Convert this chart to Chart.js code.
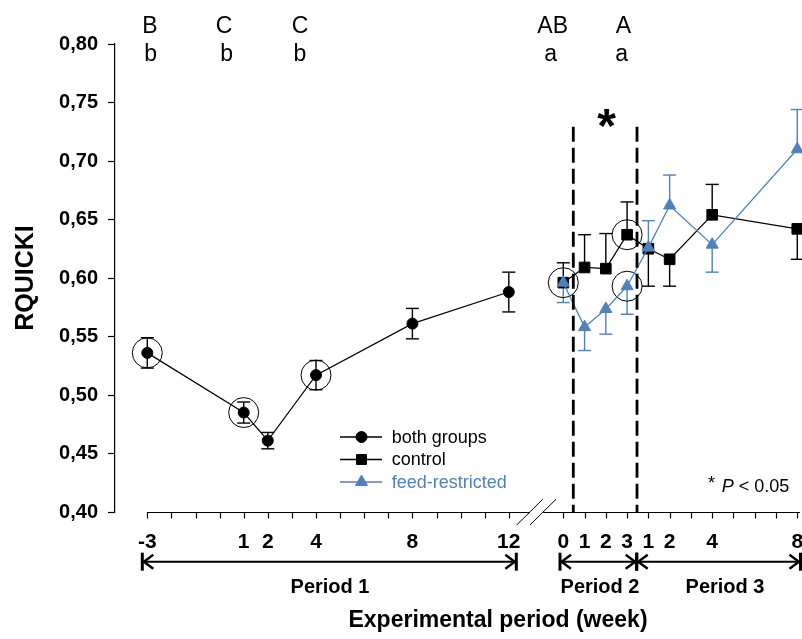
<!DOCTYPE html>
<html><head><meta charset="utf-8">
<script src="https://cdn.jsdelivr.net/npm/chart.js@4.4.0/dist/chart.umd.min.js"></script>
<style>html,body{margin:0;padding:0;background:#fff;}#wrap{width:802px;height:639px;position:relative;}</style>
</head><body><div id="wrap"><canvas id="c" width="802" height="639"></canvas></div>
<script>
// ---------------- data ----------------
const period1Weeks = [-3, 1, 2, 4, 8, 12];
const period1TickLabels = ['-3', '1', '2', '4', '8', '12'];
const bothGroupsMean = [0.536, 0.485, 0.461, 0.517, 0.561, 0.588];
const bothGroupsSE = [0.013, 0.009, 0.007, 0.0125, 0.013, 0.017];

const period23Labels = ['0', '1', '2', '3', '1', '2', '4', '8'];
const period23Offsets = [0, 1, 2, 3, 4, 5, 7, 11];   // weeks since start of period 2
const controlMean = [0.596, 0.609, 0.608, 0.637, 0.625, 0.616, 0.654, 0.642];
const controlSE = [0.017, 0.028, 0.030, 0.028, 0.032, 0.023, 0.026, 0.026];
const controlErrDir = [1, 1, 1, 1, -1, -1, 1, -1];
const feedMean = [0.596, 0.558, 0.5735, 0.593, 0.626, 0.662, 0.6285, 0.710];
const feedSE = [0.017, 0.020, 0.0215, 0.024, 0.023, 0.026, 0.0235, 0.034];
const feedErrDir = [-1, -1, -1, -1, 1, 1, -1, 1];

const yTickValues = [0.40, 0.45, 0.50, 0.55, 0.60, 0.65, 0.70, 0.75, 0.80];
const circledBoth = [0, 1, 3];
const circledControl = [3];
const circledFeed = [0, 3];

const seriesNames = ['both groups', 'control', 'feed-restricted'];
const topLetters = [['B', 'b'], ['C', 'b'], ['C', 'b'], ['AB', 'a'], ['A', 'a']];

// ---------------- layout helpers ----------------
const BLUE = '#4f81bd';
const FONT = '"Liberation Sans", Arial, Helvetica, sans-serif';
const UNIT_PX = 24.1, FIRST_WEEK_PX = 147.3;
const P23_ORIGIN = 14.261, P23_STEP = 0.8826;
const pos23 = o => P23_ORIGIN + o * P23_STEP;

const bothData = period1Weeks.map((w, i) => ({x: w, y: bothGroupsMean[i]}));
const controlData = period23Offsets.map((o, i) => ({x: pos23(o), y: controlMean[i]}));
const feedData = period23Offsets.map((o, i) => ({x: pos23(o), y: feedMean[i]}));
const circledData = [
  ...circledBoth.map(i => bothData[i]),
  ...circledControl.map(i => controlData[i]),
  ...circledFeed.map(i => feedData[i])
];

function line(ctx, x1, y1, x2, y2) { ctx.beginPath(); ctx.moveTo(x1, y1); ctx.lineTo(x2, y2); ctx.stroke(); }

function drawMarker(ctx, style, x, y, r, color) {
  ctx.save(); ctx.fillStyle = color; ctx.strokeStyle = color; ctx.lineWidth = 1;
  ctx.beginPath();
  if (style === 'circle') ctx.arc(x, y, r, 0, Math.PI * 2);
  else if (style === 'rect') { const s = r * Math.SQRT1_2; ctx.rect(x - s, y - s, 2 * s, 2 * s); }
  else { ctx.moveTo(x, y - r); ctx.lineTo(x + r * 0.866, y + r / 2); ctx.lineTo(x - r * 0.866, y + r / 2); ctx.closePath(); }
  ctx.fill(); ctx.stroke(); ctx.restore();
}

const decor = {
  id: 'decor',
  beforeDatasetsDraw(chart) {
    const ctx = chart.ctx, xs = chart.scales.x, ys = chart.scales.y;
    const cap = 6.5;
    ctx.save(); ctx.lineWidth = 1.4;
    ctx.strokeStyle = '#000';
    bothData.forEach((p, i) => {
      const x = xs.getPixelForValue(p.x);
      const yt = ys.getPixelForValue(p.y + bothGroupsSE[i]);
      const yb = ys.getPixelForValue(p.y - bothGroupsSE[i]);
      line(ctx, x, yt, x, yb); line(ctx, x - cap, yt, x + cap, yt); line(ctx, x - cap, yb, x + cap, yb);
    });
    const oneSided = (data, se, dir, color) => {
      ctx.strokeStyle = color;
      data.forEach((p, i) => {
        const x = xs.getPixelForValue(p.x);
        const y0 = ys.getPixelForValue(p.y);
        const y1 = ys.getPixelForValue(p.y + dir[i] * se[i]);
        line(ctx, x, y0, x, y1); line(ctx, x - cap, y1, x + cap, y1);
      });
    };
    oneSided(controlData, controlSE, controlErrDir, '#000');
    oneSided(feedData, feedSE, feedErrDir, BLUE);
    ctx.restore();
  },
  afterDraw(chart) {
    const ctx = chart.ctx, xs = chart.scales.x, ys = chart.scales.y;
    const axisY = ys.getPixelForValue(0.40);
    ctx.save();
    ctx.strokeStyle = '#000'; ctx.fillStyle = '#000';
    // ----- x axis line with break -----
    ctx.lineWidth = 1.2;
    const xStart = xs.getPixelForValue(-3);
    const xEnd = 800;
    line(ctx, xStart, axisY + 0.5, 529.8, axisY + 0.5);
    line(ctx, 543.2, axisY + 0.5, xEnd, axisY + 0.5);
    ctx.lineWidth = 1;
    line(ctx, 516.7, axisY + 13, 542.7, axisY - 12.7);
    line(ctx, 530, axisY + 13, 556, axisY - 12.7);
    ctx.lineWidth = 1.2;
    for (let w = -3; w <= 12; w++) { const x = Math.round(xs.getPixelForValue(w)) + 0.5; line(ctx, x, axisY, x, axisY + 6.5); }
    for (let o = 0; o <= 11; o++) { const x = Math.round(xs.getPixelForValue(pos23(o))) + 0.5; line(ctx, x, axisY, x, axisY + 6.5); }
    ctx.font = 'bold 21px ' + FONT; ctx.textAlign = 'center'; ctx.textBaseline = 'middle';
    period1Weeks.forEach((w, i) => ctx.fillText(period1TickLabels[i], xs.getPixelForValue(w), axisY + 30));
    period23Offsets.forEach((o, i) => ctx.fillText(period23Labels[i], xs.getPixelForValue(pos23(o)), axisY + 30));
    // ----- period arrows -----
    const ay = 561.7;
    const arrow = (x1, x2) => {
      ctx.lineWidth = 2; line(ctx, x1, ay, x2, ay);
      ctx.lineWidth = 2.4;
      ctx.beginPath(); ctx.moveTo(x1 + 11, ay - 7); ctx.lineTo(x1 + 1.5, ay); ctx.lineTo(x1 + 11, ay + 7); ctx.stroke();
      ctx.beginPath(); ctx.moveTo(x2 - 11, ay - 7); ctx.lineTo(x2 - 1.5, ay); ctx.lineTo(x2 - 11, ay + 7); ctx.stroke();
      ctx.lineWidth = 3; line(ctx, x1, ay - 9, x1, ay + 9); line(ctx, x2, ay - 9, x2, ay + 9);
    };
    arrow(142.3, 516.3); arrow(560, 636.7); arrow(636.7, 800.5);
    ctx.font = 'bold 20px ' + FONT;
    ctx.fillText('Period 1', 330, 587);
    ctx.fillText('Period 2', 600, 587);
    ctx.fillText('Period 3', 725, 587);
    ctx.font = 'bold 23px ' + FONT;
    ctx.fillText('Experimental period (week)', 498, 621);
    // ----- y axis title -----
    ctx.save(); ctx.translate(26, 278); ctx.rotate(-Math.PI / 2);
    ctx.font = 'bold 25px ' + FONT; ctx.fillText('RQUICKI', 0, 0); ctx.restore();
    // ----- dashed lines -----
    ctx.save(); ctx.lineWidth = 2.8; ctx.setLineDash([15, 6]);
    const dTop = 126.7;
    [573.3, 637].forEach(x => line(ctx, x, dTop, x, axisY));
    ctx.restore();
    // ----- significance asterisk -----
    ctx.font = 'bold 48px ' + FONT; ctx.textBaseline = 'alphabetic';
    ctx.fillText('*', 606.7, 142);
    // ----- letters -----
    ctx.font = '23px ' + FONT;
    const letterX = [[150, 150.7], [224, 226.7], [300, 300], [552.7, 550.7], [623.3, 621.7]];
    topLetters.forEach((pair, i) => {
      ctx.fillText(pair[0], letterX[i][0], 33.3);
      ctx.fillText(pair[1], letterX[i][1], 61);
    });
    // ----- P < 0.05 note -----
    ctx.textAlign = 'left';
    ctx.font = '18px ' + FONT; ctx.fillText('*', 708, 489);
    ctx.font = 'italic 18px ' + FONT; ctx.fillText('P', 721.7, 491.7);
    const pw = ctx.measureText('P').width;
    ctx.font = '18px ' + FONT; ctx.fillText(' < 0.05', 721.7 + pw, 491.7);
    // ----- legend -----
    const rows = [437, 459.5, 482];
    const styles = [['circle', 5.5, '#000'], ['rect', 7, '#000'], ['triangle', 7, BLUE]];
    ctx.textBaseline = 'middle';
    rows.forEach((ry, i) => {
      ctx.strokeStyle = styles[i][2]; ctx.lineWidth = 1.3;
      line(ctx, 340, ry, 382, ry);
      drawMarker(ctx, styles[i][0], 361.5, ry, styles[i][1], styles[i][2]);
      ctx.fillStyle = styles[i][2]; ctx.font = '18px ' + FONT;
      ctx.fillText(seriesNames[i], 391.7, ry + 1);
    });
    ctx.restore();
  }
};

const chart = new Chart(document.getElementById('c'), {
  type: 'line',
  data: {
    datasets: [
      {label: seriesNames[2], data: feedData, borderColor: BLUE, backgroundColor: BLUE, borderWidth: 1.3, clip: false,
       pointStyle: 'triangle', pointRadius: 7, pointBorderWidth: 1, pointBorderColor: BLUE, pointBackgroundColor: BLUE},
      {label: seriesNames[1], data: controlData, borderColor: '#000', backgroundColor: '#000', borderWidth: 1.2, clip: false,
       pointStyle: 'rect', pointRadius: 7.5, pointBorderWidth: 1},
      {label: seriesNames[0], data: bothData, borderColor: '#000', backgroundColor: '#000', borderWidth: 1.2, clip: false,
       pointStyle: 'circle', pointRadius: 5.5, pointBorderWidth: 1},
      {label: 'highlight', data: circledData, showLine: false, borderColor: '#000', backgroundColor: 'rgba(0,0,0,0)', clip: false,
       pointStyle: 'circle', pointRadius: 15, pointBorderWidth: 1, pointBorderColor: '#000', pointBackgroundColor: 'rgba(0,0,0,0)'}
    ]
  },
  options: {
    responsive: false, animation: false, events: [],
    layout: {autoPadding: false, padding: {left: 0, right: 1, top: 44, bottom: 127}},
    plugins: {legend: {display: false}, tooltip: {enabled: false}},
    elements: {line: {tension: 0}},
    scales: {
      x: {type: 'linear', min: -4.34, max: 24.1, display: false},
      y: {
        min: 0.40, max: 0.80,
        afterFit(s) { s.width = 115; },
        afterBuildTicks(s) { s.ticks = yTickValues.map(v => ({value: v})); },
        ticks: {callback: v => v.toFixed(2).replace('.', ','), font: {family: FONT, size: 20, weight: 'bold'}, color: '#000', padding: 10},
        grid: {display: true, drawOnChartArea: false, drawTicks: true, tickLength: 7, tickWidth: 1.2, tickColor: '#000'},
        border: {display: true, color: '#000', width: 1.2}
      }
    }
  },
  plugins: [decor]
});
// calibrate the x scale so one week of period 1 spans UNIT_PX pixels
const ca = chart.chartArea;
const xMin = -3 - (FIRST_WEEK_PX - ca.left) / UNIT_PX;
chart.options.scales.x.min = xMin;
chart.options.scales.x.max = xMin + (ca.right - ca.left) / UNIT_PX;
chart.update();
</script></body></html>
